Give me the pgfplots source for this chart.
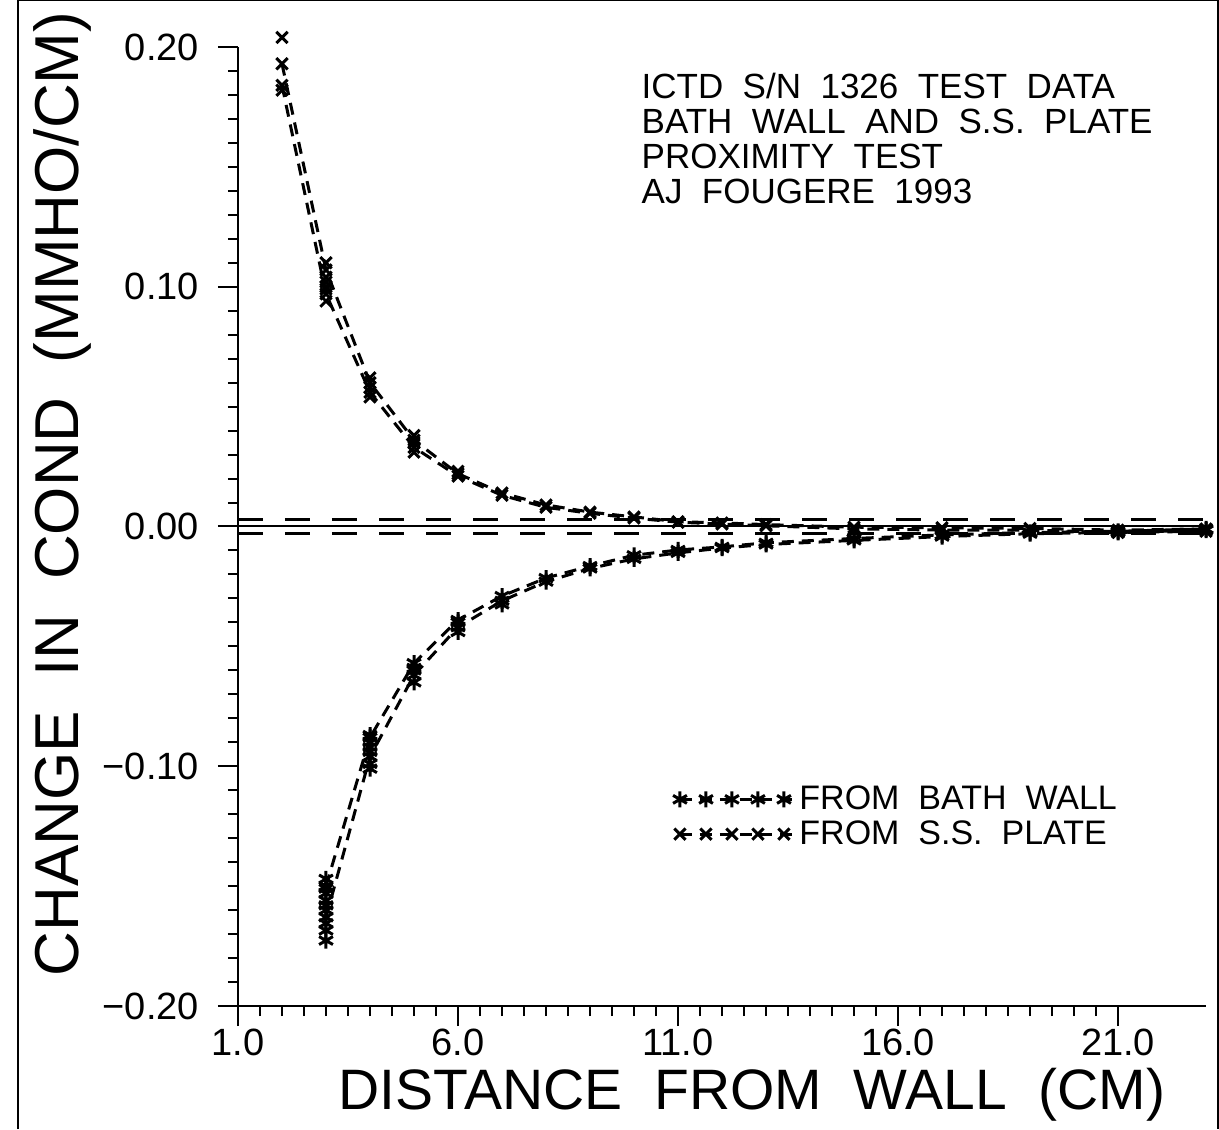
\documentclass[border=0pt]{standalone}
\usepackage{pgfplots}
\pgfplotsset{compat=1.18}
\usepackage{fontspec}
\setmainfont{Liberation Sans}

\begin{document}
\begin{tikzpicture}
\begin{axis}[
  at={(0,0)}, anchor=south west,
  width=484pt, height=479.5pt, scale only axis,
  xmin=1, xmax=23, ymin=-0.2, ymax=0.2,
  clip=false,
  axis x line*=bottom, axis y line*=left,
  axis line style={line width=1.2pt,-},
  xtick={1,6,11,16,21}, minor x tick num=9,
  xticklabels={1.0,6.0,11.0,16.0,21.0},
  ytick={-0.2,-0.1,0,0.1,0.2}, minor y tick num=9,
  yticklabels={−0.20,−0.10,0.00,0.10,0.20},
  tick align=outside,
  major tick length=10pt, minor tick length=5pt,
  every tick/.style={line width=1pt, black},
  tick label style={font=\fontsize{19}{19}\selectfont},
  y tick label style={xshift=-6pt},
  x tick label style={yshift=2pt},
  xlabel={DISTANCE\ \ FROM\ \ WALL\ \ (CM)},
  ylabel={CHANGE\ \ IN\ \ COND\ \ (MMHO/CM)},
  every axis x label/.style={at={(axis description cs:0.531,-0.093)}, anchor=center, font=\fontsize{28.5}{28.5}\selectfont},
  every axis y label/.style={at={(axis description cs:-0.181,0.534)}, anchor=center, rotate=90, font=\fontsize{31}{31}\selectfont},
  legend style={at={(axis description cs:0.449,0.234)}, anchor=north west, draw=none, fill=none, inner sep=0pt,
    font=\fontsize{17}{17}\selectfont, row sep=0pt, cells={anchor=west}},
  legend image code/.code={\draw[mark repeat=1,#1] plot coordinates {(0pt,0pt) (13pt,0pt) (26pt,0pt) (39pt,0pt) (52pt,0pt)};\path (0pt,0pt) -- (57pt,0pt);},
  wall/.style={black, line width=1.5pt, dash pattern=on 6pt off 4pt, mark=asterisk, mark size=4pt, mark options={solid, line width=1.5pt}},
  plate/.style={black, line width=1.5pt, dash pattern=on 6pt off 4pt, mark=x, mark size=4pt, mark options={solid, line width=1.5pt}},
]
% reference lines
\addplot[black, line width=1pt, forget plot] coordinates {(1,0) (23,0)};
\addplot[black, line width=1.4pt, dash pattern=on 12.5pt off 11pt, forget plot] coordinates {(1,0.003) (23,0.003)};
\addplot[black, line width=1.4pt, dash pattern=on 12.5pt off 11pt, forget plot] coordinates {(1,-0.003) (23,-0.003)};

% bath wall (lower curve)
\addplot[wall] coordinates {
(3,-0.150) (4,-0.088) (5,-0.057) (6,-0.039) (7,-0.029) (8,-0.0215) (9,-0.0165) (10,-0.012)
(11,-0.0098) (12,-0.0085) (13,-0.0068) (15,-0.005) (17,-0.0035) (19,-0.0025) (21,-0.002) (23,-0.001)};
\addlegendentry{FROM\ \ BATH\ \ WALL}
% plate (upper curve)
\addplot[plate] coordinates {
(2,0.193) (3,0.107) (4,0.060) (5,0.036) (6,0.022) (7,0.014) (8,0.009) (9,0.006) (10,0.004)
(11,0.002) (12,0.0015) (13,0.0008) (15,-0.0003) (17,-0.0005) (19,-0.0008) (21,-0.0015) (23,-0.001)};
\addlegendentry{FROM\ \ S.S.\ \ PLATE}

\addplot[wall, forget plot] coordinates {
(3,-0.163) (4,-0.096) (5,-0.062) (6,-0.042) (7,-0.031) (8,-0.023) (9,-0.0175) (10,-0.0135)
(11,-0.011) (12,-0.009) (13,-0.0075) (15,-0.0058) (17,-0.0042) (19,-0.003) (21,-0.0025) (23,-0.0015)};
\addplot[plate, forget plot] coordinates {
(2,0.184) (3,0.097) (4,0.056) (5,0.033) (6,0.021) (7,0.013) (8,0.008) (9,0.0055) (10,0.0035)
(11,0.0018) (12,0.001) (13,0.0003) (15,-0.001) (17,-0.0015) (19,-0.0015) (21,-0.0025) (23,-0.002)};

% repeated readings
\addplot[wall, only marks, forget plot] coordinates {
(3,-0.147) (3,-0.151) (3,-0.153) (3,-0.156) (3,-0.158) (3,-0.160) (3,-0.1655) (3,-0.1685) (3,-0.1727)
(4,-0.087) (4,-0.090) (4,-0.092) (4,-0.094) (4,-0.099) (4,-0.101) (5,-0.059) (5,-0.060) (5,-0.065) (6,-0.040) (6,-0.044) (7,-0.0325)};
\addplot[plate, only marks, forget plot] coordinates {
(2,0.204) (2,0.182) (3,0.110) (3,0.104) (3,0.102) (3,0.100) (3,0.094) (3,0.099) (4,0.062) (4,0.058) (4,0.054) (5,0.038) (5,0.035) (5,0.031) (6,0.023)};

\node[anchor=north west, align=left, inner sep=0pt, font=\fontsize{17.5}{17.5}\selectfont]
  at (axis description cs:0.4166,0.973)
  {ICTD\ \ S/N\ \ 1326\ \ TEST\ \ DATA\\ BATH\ \ WALL\ \ AND\ \ S.S.\ \ PLATE\\ PROXIMITY\ \ TEST\\ AJ\ \ FOUGERE\ \ 1993};
\end{axis}
\begin{scope}[x=0.5pt,y=0.5pt]
\draw[line width=1pt] (-220,-123) -- (-220,1005.5) -- (979.5,1005.5) -- (979.5,-123);
\pgfresetboundingbox
\useasboundingbox (-238,-123) rectangle (981,1006);
\end{scope}
\end{tikzpicture}
\end{document}
